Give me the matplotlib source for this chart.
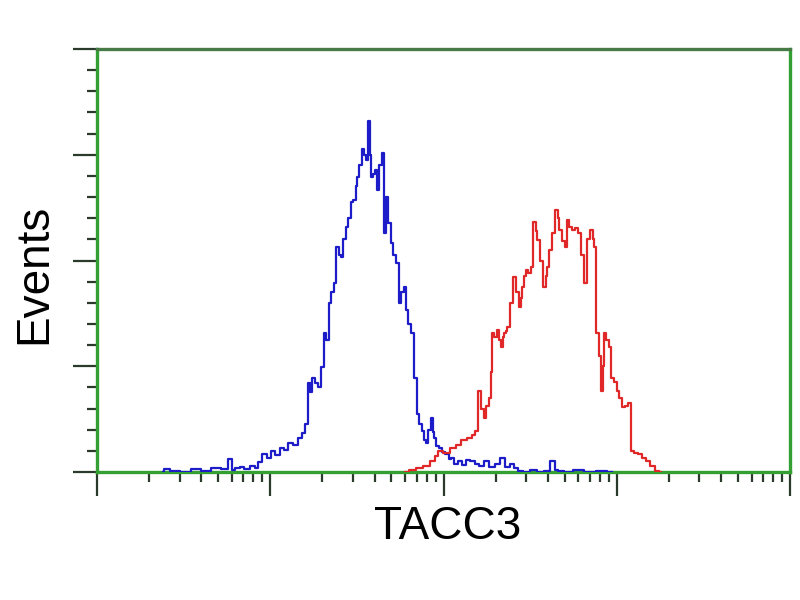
import numpy as np
import matplotlib
matplotlib.use('Agg')
import matplotlib.pyplot as plt
from matplotlib.ticker import LogLocator, MultipleLocator, NullFormatter

# isotype control (blue) -- fluorescence intensity vs events
blue_x = [2.4, 2.5, 2.8, 3.2, 3.8, 4.2, 4.9, 5.5, 5.9, 6.2, 6.4, 6.9, 7.3, 7.9, 8.4, 8.7,
          9.3, 9.8, 10.4, 11.0, 11.7, 12.3, 13.0, 14.0, 14.9, 15.6, 16.3, 16.8, 17.2, 17.7,
          18.5, 19.4, 20.0, 20.7, 21.4, 22.1, 22.8, 23.6, 24.6, 25.3, 26.0, 26.8, 27.7, 28.6,
          29.6, 30.8, 31.5, 32.1, 33.2, 34.3, 35.2, 36.2, 37.2, 37.9, 38.7, 39.7, 40.7, 41.9,
          43.2, 44.7, 45.9, 47.2, 48.7, 50.4, 52.0, 53.9, 56.1, 57.9, 59.9, 61.5, 63.5, 65.8,
          68.5, 71.2, 73.5, 76.2, 78.0, 80.3, 83.0, 85.9, 87.5, 89.4, 92.0, 95.5, 100, 104.8,
          109, 113.4, 118, 124.6, 131, 138, 148, 156, 165, 178, 190, 205, 220, 235, 249, 262,
          277, 300, 330, 360, 400, 429, 450, 470, 520, 600, 700, 820, 940]
blue_y = [0, 3, 1, 0, 3, 1, 4, 3, 12, 2, 4, 5, 3, 6, 4, 9,
          17, 13, 20, 16, 23, 21, 27, 26, 32, 37, 45, 84, 76, 89,
          84, 80, 99, 131, 125, 160, 170, 179, 213, 205, 203, 220, 232, 240,
          255, 257, 270, 279, 290, 305, 300, 295, 332, 300, 279, 282, 286, 267,
          290, 302, 226, 260, 235, 217, 205, 198, 160, 170, 175, 153, 140, 131,
          89, 55, 45, 39, 30, 27, 40, 51, 38, 32, 25, 23, 19, 17,
          12, 13, 8, 10, 7, 11, 10, 8, 6, 10, 5, 8, 13, 5, 8, 4,
          1, 0, 2, 0, 1, 10, 2, 1, 0, 2, 0, 1, 0]

# TACC3 stained sample (red)
red_x = [60, 66, 73, 80, 87, 91, 95.5, 104, 113, 122, 132, 142, 150, 156, 162, 168, 174,
         180, 185, 189, 193, 200, 206, 212, 218, 222, 226, 231, 236, 247, 259, 268, 277,
         283, 288, 295, 303, 313, 324, 337, 344, 351, 368, 385, 393, 401, 414, 429, 452,
         461, 470, 493, 516, 523, 540, 559, 585, 614, 635, 656, 690, 720, 735, 749, 779,
         800, 822, 838, 855, 884, 914, 951, 985, 1017, 1050, 1087, 1140, 1193, 1225, 1290,
         1362, 1440, 1515, 1600, 1707, 1800]
red_y = [0, 2, 4, 6, 10, 15, 20, 18, 23, 26, 30, 32, 35, 39, 77, 60, 51,
         62, 70, 95, 131, 128, 134, 125, 118, 128, 131, 133, 137, 160, 184, 170, 156,
         165, 175, 185, 191, 188, 194, 236, 228, 219, 200, 175, 185, 194, 210, 226, 248,
         240, 229, 218, 213, 238, 232, 229, 231, 226, 205, 179, 220, 229, 220, 213, 131,
         110, 77, 100, 131, 125, 118, 89, 85, 77, 70, 61, 62, 65, 20, 18,
         17, 13, 10, 6, 1, 0]

fig = plt.figure(figsize=(8, 6), dpi=100)
ax = fig.add_axes([97/800, 128/600, 693/800, 423/600])

ax.plot(blue_x, blue_y, color='#1c1cc8', lw=1.6, drawstyle='steps-mid', zorder=3)
ax.plot(red_x, red_y, color='#e02828', lw=1.6, drawstyle='steps-mid', zorder=3)

ax.set_xscale('log')
ax.set_xlim(1, 1e4)
ax.set_ylim(0, 400)

ax.xaxis.set_major_locator(LogLocator(base=10, numticks=10))
ax.xaxis.set_minor_locator(LogLocator(base=10, subs=np.arange(2, 10), numticks=20))
ax.xaxis.set_major_formatter(NullFormatter())
ax.xaxis.set_minor_formatter(NullFormatter())
ax.yaxis.set_major_locator(MultipleLocator(100))
ax.yaxis.set_minor_locator(MultipleLocator(20))
ax.yaxis.set_major_formatter(NullFormatter())

ax.tick_params(axis='both', which='major', length=17, width=1.6, color='#2b3b2b', direction='out')
ax.tick_params(axis='both', which='minor', length=7, width=1.6, color='#2b3b2b', direction='out')

for side in ['left', 'right', 'bottom']:
    ax.spines[side].set_color('#34a034')
    ax.spines[side].set_linewidth(2.4)
ax.spines['top'].set_color('#487a48')
ax.spines['top'].set_linewidth(2.4)

fig.text(34/800, 1 - 274/600, 'Events', rotation=90, ha='center', va='center',
         fontsize=33, family='Liberation Sans')
fig.text(448/800, 1 - 527/600, 'TACC3', ha='center', va='center',
         fontsize=33, family='Liberation Sans')

fig.savefig('out.png', dpi=100)
